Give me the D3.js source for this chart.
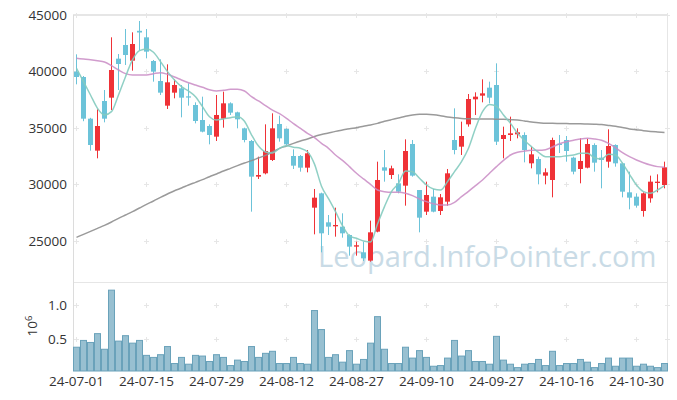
<!DOCTYPE html>
<html><head><meta charset="utf-8">
<script src="https://cdn.jsdelivr.net/npm/d3@7"></script>
<style>body{margin:0;background:#fff}svg{display:block}text{font-family:"Open Sans","Noto Sans",sans-serif}</style>
</head><body><svg id="c" width="677" height="400"></svg>
<script>
const dates = ["24-07-01","24-07-02","24-07-03","24-07-04","24-07-05","24-07-08","24-07-09","24-07-10","24-07-11","24-07-12",
"24-07-15","24-07-16","24-07-17","24-07-18","24-07-19","24-07-22","24-07-23","24-07-24","24-07-25","24-07-26",
"24-07-29","24-07-30","24-07-31","24-08-01","24-08-02","24-08-05","24-08-06","24-08-07","24-08-08","24-08-09",
"24-08-12","24-08-13","24-08-14","24-08-16","24-08-19","24-08-20","24-08-21","24-08-22","24-08-23","24-08-26",
"24-08-27","24-08-28","24-08-29","24-08-30","24-09-02","24-09-03","24-09-04","24-09-05","24-09-06","24-09-09",
"24-09-10","24-09-11","24-09-12","24-09-13","24-09-19","24-09-20","24-09-23","24-09-24","24-09-25","24-09-26",
"24-09-27","24-09-30","24-10-02","24-10-04","24-10-07","24-10-08","24-10-10","24-10-11","24-10-14","24-10-15",
"24-10-16","24-10-17","24-10-18","24-10-21","24-10-22","24-10-23","24-10-24","24-10-25","24-10-28","24-10-29",
"24-10-30","24-10-31","24-11-01","24-11-04","24-11-05"];

const open = [39985,39513,35825,32994,37389,37684,41136,42345,40958,43600,
43024,40929,39159,36976,38127,38510,37800,37035,35707,35176,
34233,35825,37183,36386,34970,33849,30693,30988,32168,35353,
34911,32522,32522,31489,27949,29217,26651,26297,26268,25530,
24500,23996,23259,25825,31519,30840,30103,29896,33584,29512,
27595,28922,27654,28480,33938,33348,35324,37537,37861,38569,
38805,34026,34380,34439,34380,31873,32256,30781,30398,33600,
33938,32374,31371,31489,33495,32374,32020,33495,31873,29306,
28923,27654,28775,30132,29955];
const high = [41519,39600,35900,36652,38362,43024,41548,43761,43466,44470,
43761,41020,41077,40634,39306,38805,38952,37270,37772,35324,
37920,38215,37270,36445,35029,33938,32463,35324,36298,36091,
34970,33111,32610,33052,29601,29276,27300,27949,27448,25589,
24940,24940,26800,32020,33052,31666,30900,33996,33938,29512,
30250,29600,29158,31371,36740,35560,38008,38156,39306,39100,
40722,35117,36002,34970,34616,33348,32463,31430,34144,34380,
34291,32463,34085,34026,33643,33052,34881,33554,31931,31135,
29217,29306,30781,30899,32020];
const low = [38864,35600,32994,32315,35500,36593,38362,40575,40073,41900,
41165,39100,37920,36681,37625,35943,36976,35412,34616,33554,
33849,35029,36150,34970,33731,27595,30486,30899,32080,33790,
33495,31371,31135,31076,25589,23996,25530,25383,25294,23701,
23701,23229,23170,25766,30250,30486,29217,28126,30693,25766,
27300,27536,27300,28126,32669,32610,35117,36150,37271,37183,
33495,32315,33849,34085,31961,31430,30014,30014,28863,32787,
32020,30899,30103,31430,31135,29660,31489,31578,28863,27802,
27949,27152,28392,29306,29660];
const close = [39513,35825,33495,35176,35825,40133,40664,41460,42433,43450,
41755,39985,38127,39041,38805,37684,37730,35619,34675,34380,
36150,37183,36357,35767,33938,30693,30840,32964,34970,34085,
33554,31666,31489,32758,28834,25678,26268,26415,25678,24498,
24620,23465,25766,30398,31224,31430,29365,32964,30781,27064,
29070,27595,28864,30988,33052,34292,37566,37773,38067,37684,
33790,34380,34527,34616,33052,32669,30899,31076,33938,33500,
32964,31135,32080,33584,31931,32168,33406,31873,29365,28834,
28126,29217,30250,30250,31519];
const volume = [380000,480000,450000,580000,350000,1220000,470000,550000,440000,480000,
260000,230000,270000,390000,140000,230000,130000,260000,250000,170000,
270000,230000,110000,190000,170000,390000,230000,290000,320000,140000,
140000,230000,140000,130000,920000,640000,230000,270000,160000,330000,
130000,200000,440000,830000,350000,140000,140000,380000,220000,330000,
230000,100000,110000,220000,480000,250000,330000,170000,170000,130000,
540000,190000,130000,80000,130000,140000,200000,110000,320000,110000,
140000,140000,200000,160000,80000,140000,220000,100000,220000,220000,
100000,130000,100000,80000,140000];
const ma5 = [40280,39100,37920,36740,36150,36445,37920,39540,41020,41845,
41990,41700,40870,39985,39250,38660,38274,37770,36890,36000,
35707,35800,35910,36000,35600,34400,33400,32880,32780,33200,
33436,33300,33200,32900,31800,29850,28750,27600,26350,25450,
25235,25000,24900,26500,28040,29365,30100,31200,31135,30545,
29955,29600,29510,30250,31135,32020,33200,34970,36445,37090,
36920,36150,35410,34530,33900,33350,32850,32460,32460,32460,
32550,32610,32760,32760,32370,32256,32670,32610,31870,30900,
29955,29365,29220,29510,29900];
const ma20 = [41165,41106,41047,40960,40840,40516,40133,39808,39690,39690,
39690,39808,39900,39750,39513,39250,39010,38800,38600,38390,
38270,38330,38420,38420,38270,37770,37390,36976,36575,36268,
35855,35383,34970,34530,34144,33640,33200,32610,32140,31580,
30990,30490,30014,29512,29365,29306,29306,29218,29010,28716,
28480,28300,28185,28185,28420,28920,29390,29900,30400,30990,
31580,32140,32610,32850,32960,33020,33020,33080,33320,33610,
33790,33910,34030,34085,34030,33910,33640,33260,32820,32460,
32170,31930,31725,31580,31520];
const ma60 = [25324,25590,25855,26120,26385,26680,27005,27300,27595,27920,
28244,28540,28863,29160,29450,29690,29955,30190,30427,30690,
30930,31190,31430,31670,31900,32110,32345,32580,32890,33200,
33407,33640,33850,34026,34250,34420,34560,34700,34820,34940,
35030,35150,35265,35410,35590,35740,35880,36030,36150,36210,
36210,36180,36090,35970,35900,35850,35820,35800,35800,35800,
35770,35770,35740,35710,35620,35530,35470,35410,35410,35400,
35390,35380,35370,35350,35330,35300,35230,35150,35040,34920,
34840,34760,34700,34650,34600];
const priceTicks = [25000,30000,35000,40000,45000];
const volTicks = [500000,1000000];

const svg = d3.select("#c");
const L = 73, R = 668, T = 15, MID = 282, B = 371;
const x = d3.scaleBand().domain(dates).range([L, R]);
const y = d3.scaleLinear().domain([21370, 45000]).range([MID, T]);
const yv = d3.scaleLinear().domain([30000, 1340000]).range([B, MID]);
const xTicks = dates.filter((d,i)=>i%10===0);
const cx = d => x(d) + x.bandwidth()/2;

// watermark
svg.append("text").attr("x",318).attr("y",267).attr("font-size",29.1)
  .attr("fill","#c9dbe6").text("Leopard.InfoPointer.com");

// frame
const fr = svg.append("g").attr("stroke","#e6e6e6").attr("fill","none");
fr.append("line").attr("x1",L).attr("x2",R).attr("y1",T).attr("y2",T).attr("stroke-width",2);
fr.append("line").attr("x1",L).attr("x2",R).attr("y1",MID+0.5).attr("y2",MID+0.5);
fr.append("line").attr("x1",L+0.5).attr("x2",L+0.5).attr("y1",T).attr("y2",B).attr("stroke","#dcdcdc");
fr.append("line").attr("x1",R-0.5).attr("x2",R-0.5).attr("y1",T).attr("y2",B);

// plus grid marks
const gx = xTicks.map(cx).concat([R-0.5]);
const gy = priceTicks.map(y).concat(volTicks.map(yv));
const pg = svg.append("g").attr("stroke","#e6e6e6").attr("stroke-width",1);
gx.forEach(px=>gy.forEach(py=>{
  const yy = Math.round(py)+0.5;
  pg.append("line").attr("x1",px-2.5).attr("x2",px+2.5).attr("y1",yy).attr("y2",yy);
  pg.append("line").attr("x1",px).attr("x2",px).attr("y1",yy-2.5).attr("y2",yy+2.5);
}));

// volume bars
svg.append("g").selectAll("rect").data(dates).join("rect")
  .attr("x",d=>x(d)+0.5).attr("width",x.bandwidth()-1)
  .attr("y",(d,i)=>yv(volume[i])).attr("height",(d,i)=>B-yv(volume[i]))
  .attr("fill","#98c0d1").attr("stroke","#6aa2ba").attr("stroke-width",1);

// candles
const cg = svg.append("g");
const col = i => close[i] >= open[i] ? "#ef3237" : "#6cc3d9";
cg.selectAll("line").data(dates).join("line")
  .attr("x1",cx).attr("x2",cx)
  .attr("y1",(d,i)=>y(high[i])).attr("y2",(d,i)=>y(low[i]))
  .attr("stroke",(d,i)=>col(i)).attr("stroke-width",1);
cg.selectAll("rect").data(dates).join("rect")
  .attr("x",d=>x(d)+1).attr("width",x.bandwidth()-2)
  .attr("y",(d,i)=>y(Math.max(open[i],close[i])))
  .attr("height",(d,i)=>Math.max(1.2, Math.abs(y(open[i])-y(close[i]))))
  .attr("fill",(d,i)=>col(i));

// moving averages
const line = arr => d3.line().x((d)=>cx(d)).y((d,i)=>y(arr[i])).curve(d3.curveMonotoneX)(dates);
svg.append("path").attr("d",line(ma60)).attr("fill","none").attr("stroke","#8f8f8f").attr("stroke-width",1.5).attr("opacity",0.9);
svg.append("path").attr("d",line(ma20)).attr("fill","none").attr("stroke","#c98bc4").attr("stroke-width",1.5).attr("opacity",0.85);
svg.append("path").attr("d",line(ma5)).attr("fill","none").attr("stroke","#84cbbf").attr("stroke-width",1.5).attr("opacity",0.9);

// axes
const styleAxis = g => { g.select(".domain").remove(); g.selectAll("text").attr("fill","#333").attr("font-size",13.5).attr("font-family",'"Open Sans","Noto Sans",sans-serif'); };
svg.append("g").attr("transform",`translate(${L},0)`)
  .call(d3.axisLeft(y).tickValues(priceTicks).tickSize(0).tickPadding(6).tickFormat(d3.format("d")))
  .call(styleAxis);
svg.append("g").attr("transform",`translate(${L},0)`)
  .call(d3.axisLeft(yv).tickValues(volTicks).tickSize(0).tickPadding(6).tickFormat(d=>(d/1e6).toFixed(1)))
  .call(styleAxis);
svg.append("g").attr("transform",`translate(0,${B})`)
  .call(d3.axisBottom(x).tickValues(xTicks).tickSize(0).tickPadding(5))
  .call(styleAxis);

// 10^6 label
const lab = svg.append("text").attr("transform","translate(37,326) rotate(-90)")
  .attr("text-anchor","middle").attr("fill","#333").attr("font-size",13.5);
lab.append("tspan").text("10");
lab.append("tspan").attr("dy",-5).attr("font-size",9.5).text("6");
</script></body></html>
